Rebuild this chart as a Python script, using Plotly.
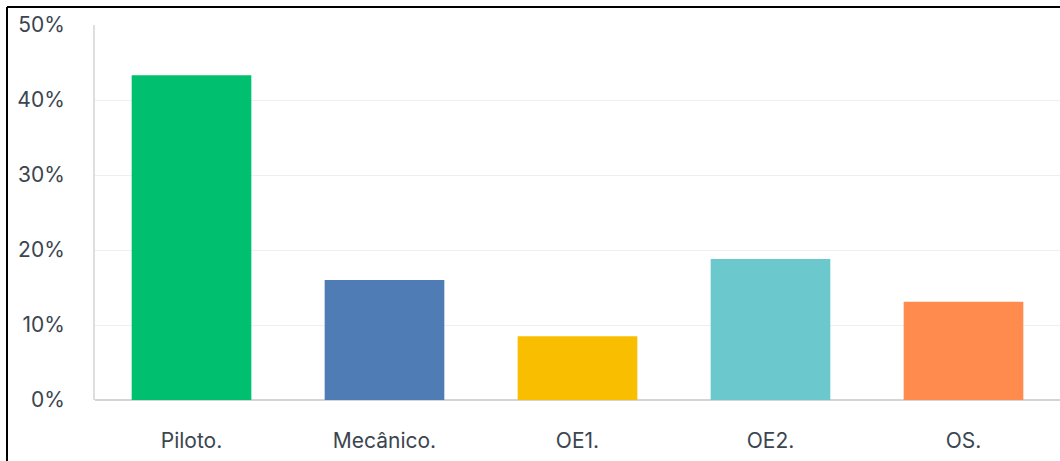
import plotly.graph_objects as go

categories = ["Piloto.", "Mecânico.", "OE1.", "OE2.", "OS."]
values = [43.3, 16.0, 8.5, 18.8, 13.1]
colors = ["#00BF6F", "#507CB6", "#F9BE00", "#6BC8CD", "#FF8B4F"]
y_ticks = [0, 10, 20, 30, 40, 50]
y_tick_labels = ["0%", "10%", "20%", "30%", "40%", "50%"]

W, H = 1060, 461
L, R, T, B = 95, 0, 25, 61
pw, ph = W - L - R, H - T - B

fig = go.Figure(go.Bar(x=categories, y=values, marker=dict(color=colors, line=dict(width=0)),
                       hoverinfo="skip"))

font = dict(family="Inter, Open Sans, sans-serif", size=21, color="#3b4550")

fig.update_layout(
    width=W, height=H,
    margin=dict(l=L, r=R, t=T, b=B),
    paper_bgcolor="white", plot_bgcolor="white",
    bargap=0.38,
    showlegend=False,
    font=font,
)
fig.update_xaxes(showgrid=False, showline=False, zeroline=False, ticks="",
                 tickfont=font, ticklabelstandoff=26)
fig.update_yaxes(range=[0, 50], tickvals=y_ticks, ticktext=y_tick_labels,
                 showgrid=True, gridcolor="#efefef", gridwidth=1,
                 zeroline=True, zerolinecolor="#d4d4d4", zerolinewidth=2,
                 showline=True, linecolor="#dedede", linewidth=2,
                 ticks="", tickfont=font, ticklabelstandoff=24)

# outer frame lines (left and top), in pixel positions converted to paper coords
xl = (7 - L) / pw
yt = 1 + (T - 7) / ph
yb = -(B + 5) / ph
fig.add_shape(type="line", xref="paper", yref="paper", x0=xl, x1=xl, y0=yb, y1=yt,
              line=dict(color="black", width=2))
fig.add_shape(type="line", xref="paper", yref="paper", x0=xl, x1=1.05, y0=yt, y1=yt,
              line=dict(color="black", width=2))

fig.write_html("out.html", config={"displayModeBar": False},
               post_script="document.body.style.margin='0';document.body.style.overflow='hidden';")
